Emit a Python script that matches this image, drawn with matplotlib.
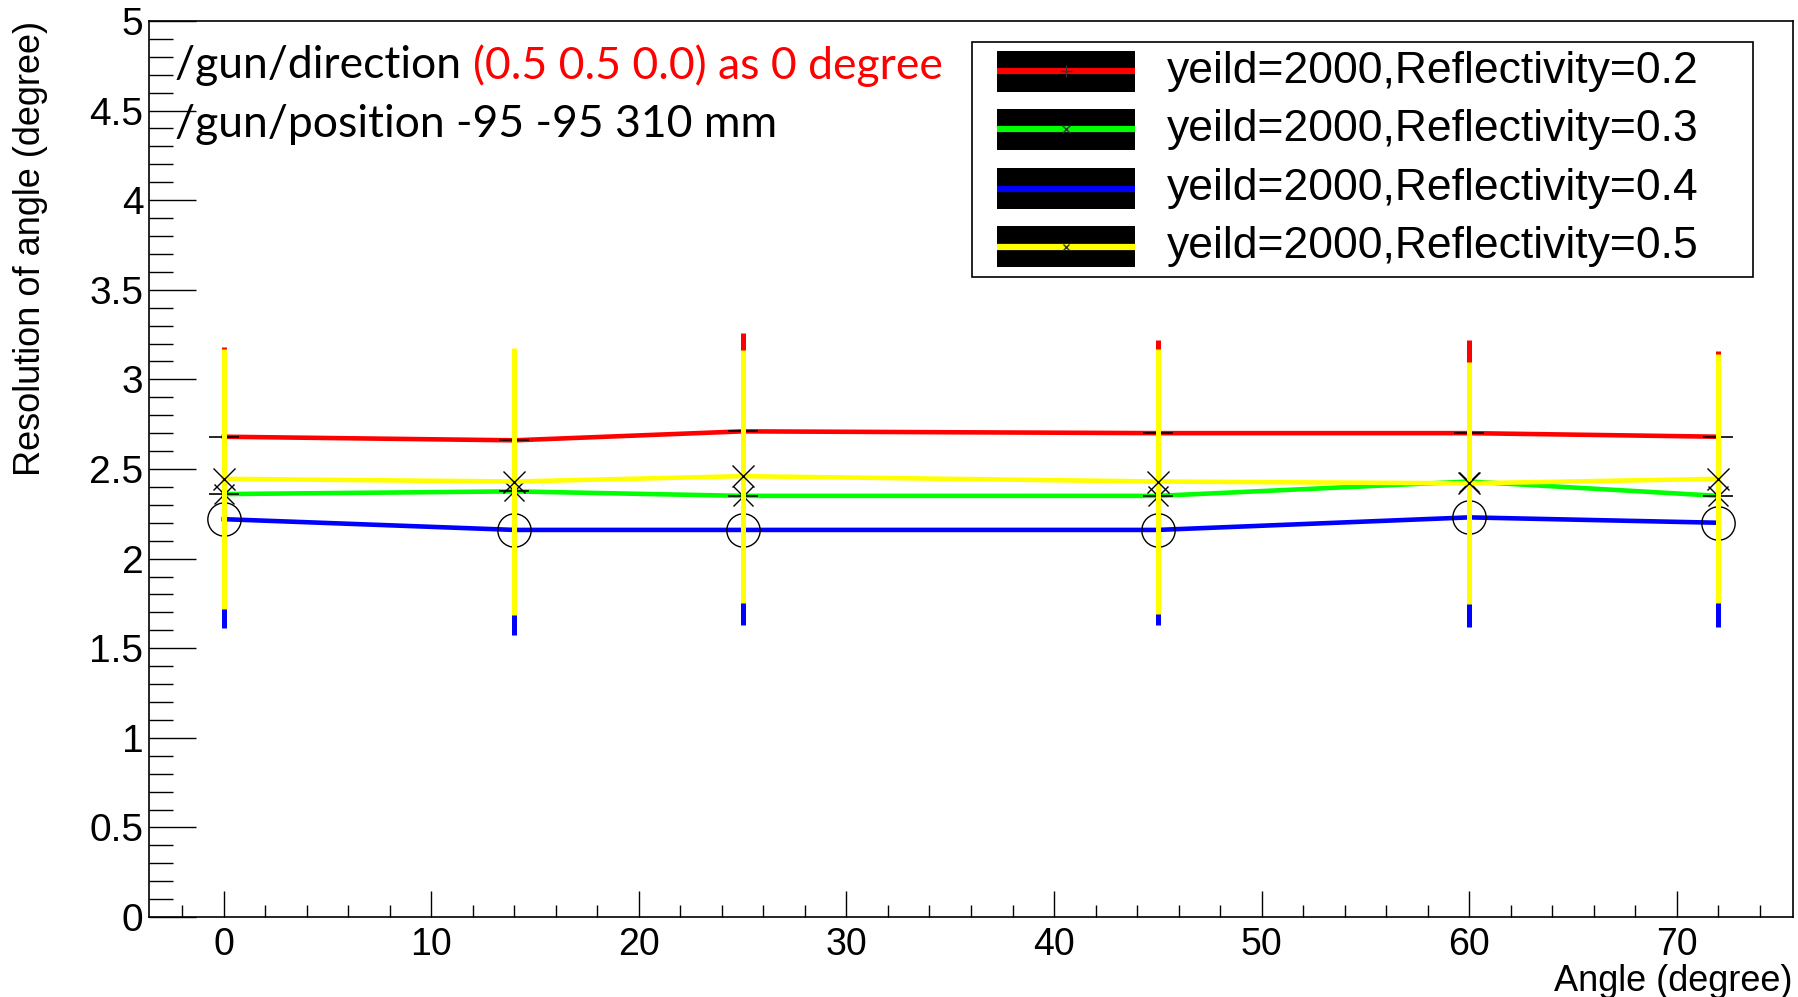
import matplotlib
matplotlib.use("Agg")
import matplotlib.pyplot as plt
from matplotlib.patches import Rectangle
from matplotlib.ticker import MultipleLocator

# incidence angles of the gun (degree)
angles = [0, 14, 25, 45, 60, 72]

# angular resolution and its error for each reflectivity setting
res_r02 = [2.68, 2.66, 2.71, 2.70, 2.70, 2.68]
err_r02 = [0.50, 0.48, 0.55, 0.52, 0.52, 0.48]
res_r03 = [2.36, 2.375, 2.35, 2.35, 2.43, 2.35]
err_r03 = [0.55, 0.55, 0.55, 0.55, 0.55, 0.55]
res_r04 = [2.22, 2.16, 2.16, 2.16, 2.23, 2.20]
err_r04 = [0.61, 0.585, 0.53, 0.53, 0.61, 0.58]
res_r05 = [2.445, 2.43, 2.46, 2.43, 2.42, 2.445]
err_r05 = [0.725, 0.745, 0.705, 0.74, 0.675, 0.695]

labels = ["yeild=2000,Reflectivity=0.2",
          "yeild=2000,Reflectivity=0.3",
          "yeild=2000,Reflectivity=0.4",
          "yeild=2000,Reflectivity=0.5"]
colors = ["#ff0000", "#00ff00", "#0000ff", "#ffff00"]

sans = ["Liberation Sans", "DejaVu Sans"]
note_font = ["Lato", "DejaVu Sans"]

fig = plt.figure(figsize=(17.98, 9.97), dpi=100)
ax = fig.add_axes([0.0829, 0.0802, 0.9143, 0.8988])

series = [
    (res_r02, err_r02, dict(marker="_", ms=22, mew=1.2)),
    (res_r03, err_r03, dict(marker="x", ms=14, mew=1.0)),
    (res_r04, err_r04, dict(marker="o", ms=24, mew=1.0, mfc="none")),
    (res_r05, err_r05, dict(marker="x", ms=16, mew=1.0)),
]

for i, (vals, errs, mk) in enumerate(series):
    z = 3 + i * 3
    ax.errorbar(angles, vals, yerr=errs, fmt="none", ecolor=colors[i],
                elinewidth=3.6, capsize=0, zorder=z)
    ax.plot(angles, vals, color=colors[i], lw=3.3, zorder=z + 1)
    ax.plot(angles, vals, ls="none", color="black", zorder=z + 2, **mk)
    if i == 1:
        ax.plot(angles, vals, ls="none", marker="_", ms=22, mew=1.2,
                color="black", zorder=z + 2)

ax.set_xlim(-3.6, 75.6)
ax.set_ylim(0, 5)
ax.xaxis.set_major_locator(MultipleLocator(10))
ax.xaxis.set_minor_locator(MultipleLocator(2))
ax.yaxis.set_major_locator(MultipleLocator(0.5))
ax.yaxis.set_minor_locator(MultipleLocator(0.1))
ax.yaxis.set_major_formatter(lambda v, pos: f"{v:g}")
ax.tick_params(axis="y", which="major", direction="in", length=34, width=1,
               pad=4, labelsize=28)
ax.tick_params(axis="y", which="minor", direction="in", length=17, width=1)
ax.tick_params(axis="x", which="major", direction="in", length=19, width=1,
               pad=7, labelsize=27)
ax.tick_params(axis="x", which="minor", direction="in", length=9, width=1)
for lab in ax.get_xticklabels() + ax.get_yticklabels():
    lab.set_family(sans)
for sp in ax.spines.values():
    sp.set_linewidth(1.2)

fig.text(0.9967, 0.016, "Angle (degree)", ha="right", va="center",
         fontsize=26, family=sans)
fig.text(0.017, 0.979, "Resolution of angle (degree)", ha="center", va="top",
         rotation=90, fontsize=26, family=sans)

# run conditions in the top left corner
t1 = ax.text(0.016, 0.950, "/gun/direction ", transform=ax.transAxes,
             ha="left", va="center", fontsize=32, family=note_font)
fig.canvas.draw()
bb = t1.get_window_extent().transformed(ax.transAxes.inverted())
ax.text(bb.x1, 0.950, "(0.5 0.5 0.0) as 0 degree", transform=ax.transAxes,
        ha="left", va="center", fontsize=32, color="#ff0000", family=note_font)
ax.text(0.016, 0.884, "/gun/position -95 -95 310 mm", transform=ax.transAxes,
        ha="left", va="center", fontsize=32, family=note_font)

# legend box with black swatches
ax.add_patch(Rectangle((0.5006, 0.714), 0.4751, 0.2626, transform=ax.transAxes,
                       facecolor="white", edgecolor="black", lw=1.2, zorder=20))
row_y = [0.944, 0.879, 0.813, 0.748]
leg_marks = [dict(marker="+", ms=8), dict(marker="x", ms=6),
             dict(marker="none"), dict(marker="x", ms=5)]
for i, yy in enumerate(row_y):
    ax.add_patch(Rectangle((0.516, yy - 0.023), 0.084, 0.046, transform=ax.transAxes,
                           facecolor="black", edgecolor="none", zorder=21))
    ax.plot([0.516, 0.600], [yy, yy], transform=ax.transAxes, color=colors[i],
            lw=4.5, zorder=22, solid_capstyle="butt")
    ax.plot([0.558], [yy], transform=ax.transAxes, color="#333333", mew=1,
            zorder=23, ls="none", **leg_marks[i])
    ax.text(0.619, yy, labels[i], transform=ax.transAxes, ha="left", va="center",
            fontsize=32, family=sans, zorder=23)

fig.savefig("out.png", dpi=100)
